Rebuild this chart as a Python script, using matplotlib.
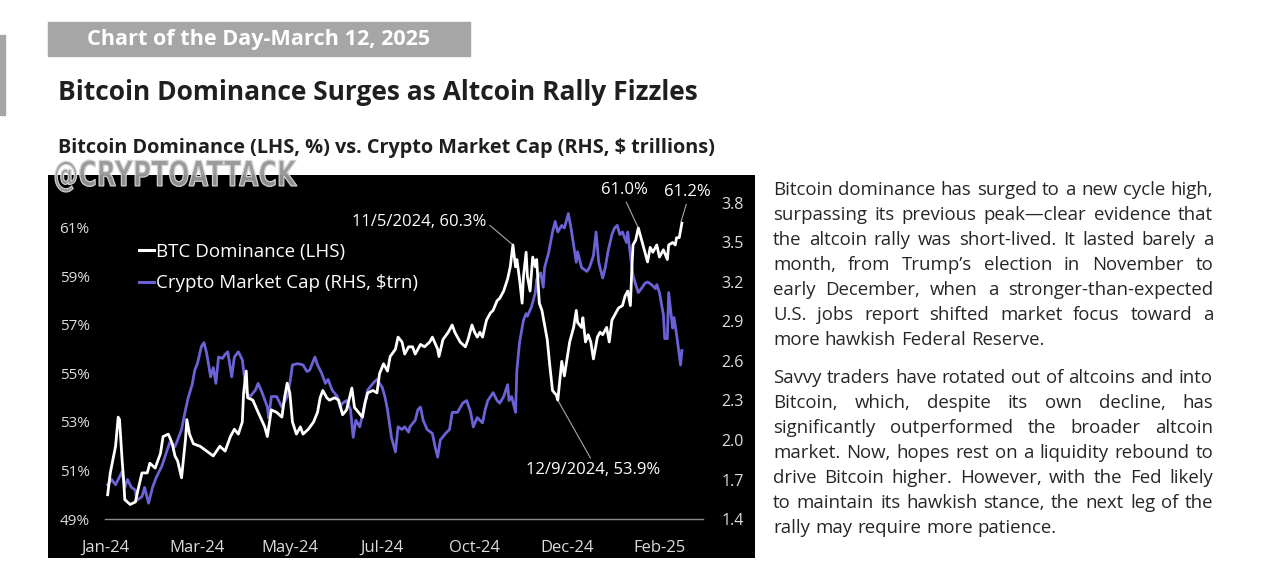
import matplotlib

matplotlib.use("Agg")
import matplotlib.pyplot as plt
import matplotlib.dates as mdates
import pandas as pd
from matplotlib.patches import Rectangle, PathPatch
from matplotlib.lines import Line2D
from matplotlib.textpath import TextPath
from matplotlib.font_manager import FontProperties
from matplotlib.transforms import Affine2D

plt.rcParams["font.family"] = ["Open Sans", "DejaVu Sans"]

W, H = 1280, 578

# ---- data (day offsets from 2024-01-01) ----
btc_day = [2, 4, 8, 10, 11, 13, 14, 15, 19, 23, 25, 28, 32, 34, 38, 42, 44, 48, 51, 53,
           55, 58, 61, 62, 64, 67, 72, 77, 82, 87, 91, 95, 98, 101, 104, 105, 107, 108, 112, 116,
           121, 123, 126, 130, 134, 136, 138, 140, 142, 145, 148, 150, 154, 158, 161, 163, 165, 168, 170, 174,
           177, 180, 183, 187, 189, 192, 195, 197, 199, 203, 206, 208, 211, 214, 216, 220, 222, 225, 227, 230,
           233, 235, 239, 242, 246, 248, 252, 253, 256, 260, 263, 265, 269, 273, 275, 278, 280, 282, 284, 286,
           289, 292, 294, 297, 299, 302, 305, 307, 309, 311, 312, 314, 316, 317, 319, 320, 322, 324, 326, 327,
           329, 331, 335, 337, 339, 342, 343, 346, 348, 350, 352, 355, 357, 358, 361, 362, 364, 366, 368, 370,
           373, 375, 377, 380, 382, 384, 386, 389, 392, 394, 396, 398, 399, 400, 402, 404, 406, 408, 411, 413,
           415, 418, 420, 423, 426, 427, 430, 432, 433, 435, 437]
btc_dom = [50.0, 50.9, 52.0, 53.2, 53.1, 51.4, 50.7, 49.8, 49.6, 49.7, 50.2, 50.9, 50.9, 51.3, 51.1, 51.7, 52.4, 52.5, 52.1, 51.6,
           51.4, 50.7, 52.3, 53.1, 52.5, 52.1, 52.0, 51.8, 51.6, 52.0, 51.8, 52.4, 52.7, 52.5, 53.0, 54.2, 55.1, 54.0, 53.9, 53.4,
           52.8, 52.4, 53.5, 53.4, 53.2, 54.0, 54.6, 54.2, 53.0, 52.5, 52.8, 52.5, 52.7, 53.0, 53.4, 54.0, 54.3, 54.0, 53.9, 54.0,
           53.9, 53.3, 53.5, 54.4, 53.6, 53.4, 53.2, 53.8, 54.2, 54.3, 54.2, 55.0, 55.4, 55.1, 55.7, 56.0, 56.5, 56.3, 55.8, 56.1,
           56.1, 55.8, 56.2, 56.1, 56.3, 56.5, 56.0, 55.7, 56.4, 56.7, 57.0, 56.7, 56.3, 56.1, 56.4, 57.0, 56.7, 56.5, 56.7, 56.5,
           57.2, 57.5, 57.6, 58.0, 58.1, 58.4, 58.9, 59.4, 60.3, 59.4, 59.7, 58.9, 57.9, 59.0, 60.0, 59.0, 58.4, 59.8, 59.4, 59.7,
           57.9, 57.6, 56.4, 55.3, 54.3, 54.1, 53.9, 55.5, 54.9, 55.6, 56.3, 56.9, 57.6, 57.1, 56.9, 57.3, 56.3, 56.6, 56.3, 55.6,
           56.5, 56.7, 56.6, 56.9, 56.3, 57.2, 57.4, 57.7, 57.8, 58.2, 58.4, 57.8, 59.2, 60.3, 60.5, 61.0, 60.6, 60.2, 59.6, 60.2,
           60.0, 60.3, 59.8, 60.1, 59.7, 60.3, 60.4, 60.3, 60.6, 60.6, 61.2]

mcap_day = [2, 5, 8, 10, 13, 15, 17, 20, 23, 24, 28, 30, 33, 36, 39, 43, 47, 49, 53, 55,
            58, 61, 63, 66, 68, 70, 73, 75, 77, 80, 82, 84, 86, 89, 91, 93, 96, 98, 101, 104,
            105, 107, 110, 114, 116, 119, 123, 124, 126, 130, 134, 138, 140, 142, 146, 150, 153, 155, 159, 161,
            164, 167, 169, 172, 176, 178, 180, 183, 186, 188, 190, 193, 197, 199, 203, 206, 210, 212, 214, 217,
            220, 222, 225, 227, 230, 231, 235, 237, 239, 241, 244, 248, 250, 252, 254, 258, 261, 263, 267, 271,
            274, 277, 279, 282, 286, 288, 290, 294, 297, 299, 302, 305, 306, 308, 311, 312, 314, 317, 319, 320,
            323, 326, 327, 330, 332, 333, 336, 339, 341, 343, 346, 348, 351, 353, 355, 357, 358, 361, 365, 367,
            370, 372, 374, 377, 379, 381, 384, 386, 388, 390, 392, 395, 396, 398, 400, 402, 404, 407, 409, 411,
            414, 417, 418, 420, 423, 424, 426, 427, 430, 431, 433, 436, 437]
mcap_trn = [1.66, 1.70, 1.66, 1.70, 1.76, 1.64, 1.70, 1.64, 1.62, 1.54, 1.57, 1.64, 1.52, 1.64, 1.72, 1.80, 1.92, 1.98, 1.95, 2.00,
            2.08, 2.23, 2.32, 2.42, 2.53, 2.58, 2.71, 2.74, 2.66, 2.48, 2.55, 2.43, 2.63, 2.62, 2.65, 2.67, 2.48, 2.63, 2.67, 2.61,
            2.53, 2.36, 2.33, 2.38, 2.43, 2.36, 2.25, 2.17, 2.33, 2.33, 2.25, 2.33, 2.43, 2.57, 2.58, 2.57, 2.52, 2.53, 2.63, 2.57,
            2.51, 2.43, 2.46, 2.38, 2.33, 2.25, 2.28, 2.30, 2.23, 2.02, 2.15, 2.10, 2.28, 2.38, 2.43, 2.46, 2.40, 2.33, 2.23, 2.02,
            1.91, 2.10, 2.08, 2.10, 2.06, 2.10, 2.15, 2.23, 2.25, 2.15, 2.08, 2.05, 1.95, 1.87, 2.00, 2.05, 2.08, 2.21, 2.21, 2.28,
            2.30, 2.21, 2.10, 2.17, 2.13, 2.23, 2.30, 2.36, 2.30, 2.28, 2.33, 2.42, 2.30, 2.33, 2.21, 2.53, 2.74, 2.91, 2.96, 2.94,
            3.01, 3.12, 3.22, 3.27, 3.16, 3.31, 3.42, 3.58, 3.66, 3.58, 3.63, 3.61, 3.72, 3.61, 3.48, 3.35, 3.43, 3.31, 3.28, 3.31,
            3.40, 3.58, 3.35, 3.23, 3.31, 3.43, 3.56, 3.61, 3.63, 3.56, 3.58, 3.50, 3.58, 3.40, 3.25, 3.18, 3.12, 3.16, 3.19, 3.20,
            3.18, 3.15, 3.18, 3.12, 2.95, 2.77, 2.77, 3.12, 2.85, 2.93, 2.80, 2.57, 2.68]

left_ticks = [49, 51, 53, 55, 57, 59, 61]
right_ticks = [1.4, 1.7, 2.0, 2.3, 2.6, 2.9, 3.2, 3.5, 3.8]

# (label, date, value, text offset in px (dx, dy), anchor on text, ha)
callouts = [
    ("11/5/2024, 60.3%", "2024-11-05", 60.3, (-27, 23), (1.0, 0.5), "right"),
    ("61.0%", "2025-02-08", 61.0, (-14, 30), (0.5, 0.0), "center"),
    ("61.2%", "2025-03-12", 61.2, (7, 23), (0.5, 0.0), "center"),
    ("12/9/2024, 53.9%", "2024-12-09", 53.9, (35, -62), (0.5, 1.0), "center"),
]

para1 = [
    "Bitcoin dominance has surged to a new cycle high,",
    "surpassing its previous peak\u2014clear evidence that",
    "the altcoin rally was short-lived. It lasted barely a",
    "month, from Trump\u2019s election in November to",
    "early December, when a stronger-than-expected",
    "U.S. jobs report shifted market focus toward a",
    "more hawkish Federal Reserve.",
]
para2 = [
    "Savvy traders have rotated out of altcoins and into",
    "Bitcoin, which, despite its own decline, has",
    "significantly outperformed the broader altcoin",
    "market. Now, hopes rest on a liquidity rebound to",
    "drive Bitcoin higher. However, with the Fed likely",
    "to maintain its hawkish stance, the next leg of the",
    "rally may require more patience.",
]

PURPLE = "#6b62d6"
TICK = "#dcdcdc"

start = pd.Timestamp("2024-01-01")
btc_x = start + pd.to_timedelta(btc_day, unit="D")
mcap_x = start + pd.to_timedelta(mcap_day, unit="D")


def fx(x):
    return x / W


def fy(y):
    return 1 - y / H


fig = plt.figure(figsize=(W / 100, H / 100), dpi=100, facecolor="white")

# header blocks
fig.patches.append(Rectangle((fx(0), fy(115)), 5 / W, 80 / H, transform=fig.transFigure,
                             color="#a6a6a6", zorder=0))
fig.patches.append(Rectangle((fx(48), fy(56)), 422 / W, 34 / H, transform=fig.transFigure,
                             color="#a6a6a6", zorder=0))
fig.text(fx(87), fy(39), "Chart of the Day-March 12, 2025", color="white", fontsize=15.6,
         fontweight="bold", va="center", ha="left")
fig.text(fx(58), fy(93), "Bitcoin Dominance Surges as Altcoin Rally Fizzles", color="#1f1f1f",
         fontsize=19, fontweight="bold", va="center", ha="left")
fig.text(fx(58), fy(148), "Bitcoin Dominance (LHS, %) vs. Crypto Market Cap (RHS, $ trillions)",
         color="#1f1f1f", fontsize=14.3, fontweight="bold", va="center", ha="left")

# black chart panel
bg = fig.add_axes([fx(48), fy(558), 707 / W, 383 / H])
bg.set_facecolor("black")
bg.set_xticks([])
bg.set_yticks([])
for s in bg.spines.values():
    s.set_visible(False)

# watermark, squeezed into its box (x 55..297, y 160..192)
tp = TextPath((0, 0), "@CRYPTOATTACK", size=30, prop=FontProperties(family="DejaVu Sans", weight="bold"))
ext = tp.get_extents()
sx = 242 / ext.width
sy = 32 / ext.height
wm_tr = Affine2D().translate(-ext.x0, -ext.y0).scale(sx, sy).translate(55, H - 192)
fig.patches.append(PathPatch(tp, transform=wm_tr, facecolor="#969696", edgecolor="#d4d4d4",
                             lw=0.9, alpha=0.95, zorder=5))

ax = fig.add_axes([fx(105), fy(519), (703 - 105) / W, (519 - 203) / H])
ax.set_facecolor("none")
ax2 = ax.twinx()

ax2.plot(mcap_x, mcap_trn, color=PURPLE, lw=2.0, zorder=2)
ax.plot(btc_x, btc_dom, color="white", lw=2.0, zorder=3)
ax.set_zorder(ax2.get_zorder() + 1)
ax.patch.set_visible(False)

ax.set_xlim(start, start + pd.Timedelta(days=453))
ax.set_ylim(49, 62.03)
ax2.set_ylim(1.4, 3.8)
ax.set_yticks(left_ticks)
ax.set_yticklabels([f"{v}%" for v in left_ticks])
ax2.set_yticks(right_ticks)
ax2.set_yticklabels([f"{v:.1f}" for v in right_ticks])
ax.set_xticks(pd.date_range(start, periods=7, freq="70D"))
ax.xaxis.set_major_formatter(mdates.DateFormatter("%b-%y"))

ax.tick_params(axis="y", length=0, pad=11, labelcolor=TICK, labelsize=11)
ax.tick_params(axis="x", length=0, pad=15, labelcolor=TICK, labelsize=12)
ax2.tick_params(axis="y", length=0, pad=13, labelcolor=TICK, labelsize=11.5)
for a in (ax, ax2):
    for side in ("top", "left", "right", "bottom"):
        a.spines[side].set_visible(False)
ax.spines["bottom"].set_visible(True)
ax.spines["bottom"].set_color("#8a8a8a")
ax.spines["bottom"].set_linewidth(1.0)

# legend
handles = [Line2D([], [], color="white", lw=2.2), Line2D([], [], color=PURPLE, lw=2.2)]
ax.legend(handles, ["BTC Dominance (LHS)", "Crypto Market Cap (RHS, $trn)"],
          loc="upper left", bbox_to_anchor=(fx(139), fy(243)), bbox_transform=fig.transFigure,
          frameon=False, labelcolor="white", fontsize=13.5, handlelength=0.8,
          handletextpad=0.1, labelspacing=0.7, borderpad=0, borderaxespad=0)

# callouts
for label, d, v, (dx, dy), rel, ha in callouts:
    ax.annotate(label, xy=(pd.Timestamp(d), v), xytext=(dx * 0.72, dy * 0.72),
                textcoords="offset points", color="white", fontsize=12, ha=ha,
                va="center" if rel[1] == 0.5 else ("bottom" if rel[1] == 0 else "top"),
                arrowprops=dict(arrowstyle="-", color="#a8a8a8", lw=0.8, relpos=rel,
                                shrinkA=1, shrinkB=1))

# justified commentary on the right
renderer = fig.canvas.get_renderer()
X0, X1 = 773, 1213
PFS = 13.4


def draw_line(text, y, justify):
    words = text.split(" ")
    items = [fig.text(0, fy(y), w, fontsize=PFS, color="#262626", va="center", ha="left")
             for w in words]
    widths = [t.get_window_extent(renderer).width for t in items]
    if justify and len(words) > 1:
        gap = (X1 - X0 - sum(widths)) / (len(words) - 1)
    else:
        gap = PFS * 100 / 72 * 0.27
    x = X0
    for t, w in zip(items, widths):
        t.set_x(fx(x))
        x += w + gap


for i, line in enumerate(para1):
    draw_line(line, 190 + 25 * i, i < len(para1) - 1)
for i, line in enumerate(para2):
    draw_line(line, 378 + 25 * i, i < len(para2) - 1)

fig.savefig("out.png", dpi=100, facecolor="white")
